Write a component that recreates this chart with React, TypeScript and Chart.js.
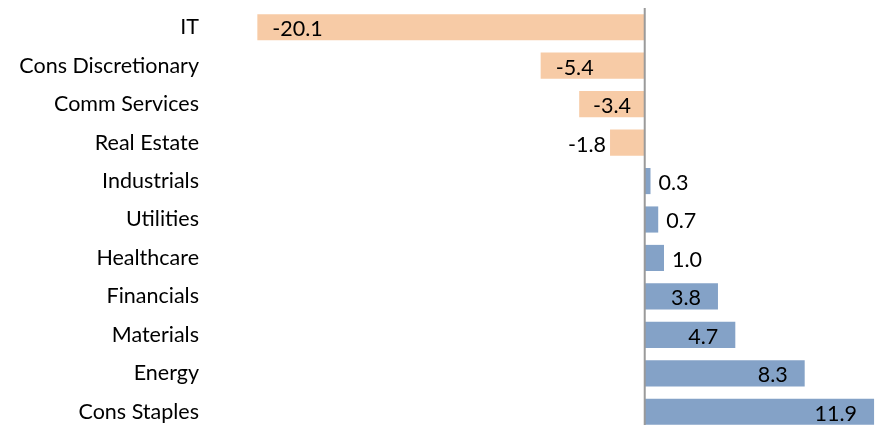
import React, { useEffect, useRef } from "react";
import { Chart, registerables } from "chart.js";

Chart.register(...registerables);

const categories: string[] = [
  "IT",
  "Cons Discretionary",
  "Comm Services",
  "Real Estate",
  "Industrials",
  "Utilities",
  "Healthcare",
  "Financials",
  "Materials",
  "Energy",
  "Cons Staples",
];

const values: number[] = [-20.1, -5.4, -3.4, -1.8, 0.3, 0.7, 1.0, 3.8, 4.7, 8.3, 11.9];

const xMin = -21;
const xMax = 12;

const NEG_COLOR = "#F7CBA6";
const POS_COLOR = "#84A2C7";
const FONT_FAMILY = "Lato, 'Open Sans', sans-serif";
const FONT_SIZE = 21.5;

const valueLabelPlugin = {
  id: "valueLabels",
  afterDatasetsDraw(chart: any) {
    const ctx = chart.ctx;
    const meta = chart.getDatasetMeta(0);
    ctx.save();
    ctx.font = `${FONT_SIZE}px ${FONT_FAMILY}`;
    ctx.fillStyle = "#000";
    ctx.textBaseline = "middle";
    meta.data.forEach((bar: any, i: number) => {
      const v = values[i];
      const text = v.toFixed(1);
      const tw = ctx.measureText(text).width;
      const barW = Math.abs(bar.x - bar.base);
      const y = bar.y + 2;
      const inside = barW >= tw + 24;
      if (v >= 0) {
        if (inside) {
          const pad = Math.min(17, (barW - tw) / 2);
          ctx.textAlign = "right";
          ctx.fillText(text, bar.x - pad, y);
        } else {
          ctx.textAlign = "left";
          ctx.fillText(text, bar.x + 8, y);
        }
      } else {
        if (inside) {
          const pad = Math.min(15, (barW - tw) / 2);
          ctx.textAlign = "left";
          ctx.fillText(text, bar.x + pad, y);
        } else {
          ctx.textAlign = "right";
          ctx.fillText(text, bar.x - 4, y);
        }
      }
    });
    ctx.restore();
  },
};

const zeroLinePlugin = {
  id: "zeroLine",
  afterDatasetsDraw(chart: any) {
    const { ctx, chartArea, scales } = chart;
    const x0 = scales.x.getPixelForValue(0);
    ctx.save();
    ctx.strokeStyle = "#9A9A9A";
    ctx.lineWidth = 2;
    ctx.beginPath();
    ctx.moveTo(x0, chartArea.top);
    ctx.lineTo(x0, chartArea.bottom);
    ctx.stroke();
    ctx.restore();
  },
};

export default function App() {
  const ref = useRef<HTMLCanvasElement | null>(null);

  useEffect(() => {
    if (!ref.current) return;
    const chart = new Chart(ref.current, {
      type: "bar",
      data: {
        labels: categories,
        datasets: [
          {
            data: values,
            backgroundColor: values.map((v) => (v < 0 ? NEG_COLOR : POS_COLOR)),
            borderWidth: 0,
            barPercentage: 0.68,
            categoryPercentage: 1,
          },
        ],
      },
      options: {
        indexAxis: "y",
        animation: false,
        responsive: true,
        maintainAspectRatio: false,
        layout: { padding: { top: 8, right: 2, bottom: 0, left: 0 } },
        plugins: {
          legend: { display: false },
          tooltip: { enabled: false },
        },
        scales: {
          x: {
            display: false,
            min: xMin,
            max: xMax,
          },
          y: {
            grid: { display: false, drawTicks: false },
            border: { display: false },
            ticks: {
              color: "#000",
              padding: 41,
              font: { family: FONT_FAMILY, size: FONT_SIZE },
            },
            afterFit(scale: any) {
              scale.width = 240;
              scale.paddingTop = 0;
              scale.paddingBottom = 0;
            },
          },
        },
      },
      plugins: [valueLabelPlugin, zeroLinePlugin],
    });
    return () => chart.destroy();
  }, []);

  return (
    <div style={{ position: "fixed", left: 0, top: 0, width: 878, height: 431, background: "#fff" }}>
      <canvas ref={ref} />
    </div>
  );
}
